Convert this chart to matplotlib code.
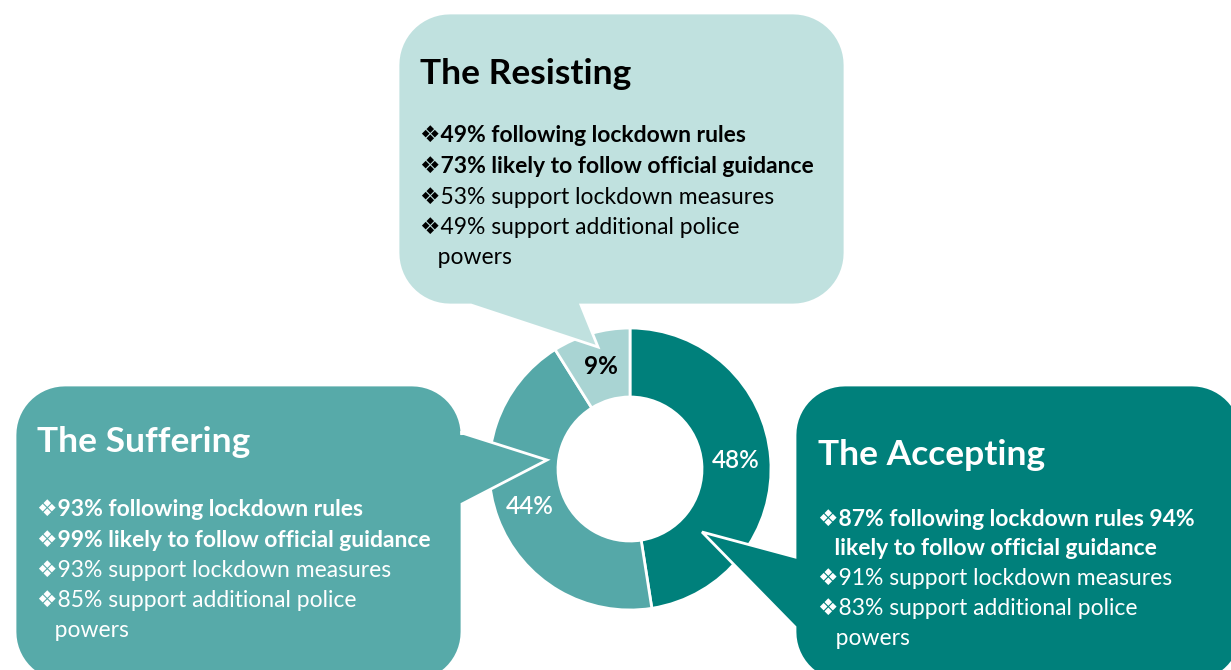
import matplotlib
matplotlib.use("Agg")
import matplotlib.pyplot as plt
import numpy as np
from matplotlib.patches import Polygon

W, H = 1231, 670

# ---- data ----
segments = ["The Accepting", "The Suffering", "The Resisting"]
shares = [48, 44, 9]
share_labels = ["48%", "44%", "9%"]
slice_colors = ["#00807B", "#55A8A8", "#A9D4D3"]
label_colors = ["white", "white", "black"]
label_weights = ["semibold", "semibold", "bold"]

resisting_lines = [("❖49% following lockdown rules", True),
                   ("❖73% likely to follow official guidance", True),
                   ("❖53% support lockdown measures", False),
                   ("❖49% support additional police", False),
                   ("   powers", False)]
suffering_lines = [("❖93% following lockdown rules", True),
                   ("❖99% likely to follow official guidance", True),
                   ("❖93% support lockdown measures", False),
                   ("❖85% support additional police", False),
                   ("   powers", False)]
accepting_lines = [("❖87% following lockdown rules 94%", True),
                   ("   likely to follow official guidance", True),
                   ("❖91% support lockdown measures", False),
                   ("❖83% support additional police", False),
                   ("   powers", False)]

FAM = ["Lato", "DejaVu Sans"]

fig = plt.figure(figsize=(W / 100, H / 100), dpi=100)
ax = fig.add_axes([0, 0, 1, 1])


def Y(y):
    return H - y


# ---- donut ----
cx, cy, R, RIN = 630, 469, 141, 72
wedges, texts = ax.pie(shares, labels=share_labels, colors=slice_colors,
                       startangle=90, counterclock=False,
                       center=(cx, Y(cy)), radius=R,
                       labeldistance=(R + RIN) / 2 / R,
                       wedgeprops=dict(width=R - RIN, edgecolor="white", linewidth=2),
                       textprops=dict(fontsize=17.5, family=FAM))
for t, c, w in zip(texts, label_colors, label_weights):
    t.set_color(c)
    t.set_fontweight(w)
    t.set_ha("center")
    t.set_va("center")


# ---- speech bubbles ----
def bubble(x0, y0, x1, y1, r, edge, p1, tip, p2, color):
    pts = []

    def arc(ccx, ccy, a0, a1):
        t = np.radians(np.linspace(a0, a1, 16))
        return [(ccx + r * np.cos(v), ccy + r * np.sin(v)) for v in t]

    pts += arc(x0 + r, y0 + r, 180, 270)
    pts += arc(x1 - r, y0 + r, 270, 360)
    if edge == "right":
        pts += [p1, tip, p2]
    pts += arc(x1 - r, y1 - r, 0, 90)
    if edge == "bottom":
        pts += [p1, tip, p2]
    pts += arc(x0 + r, y1 - r, 90, 180)
    if edge == "left":
        pts += [p1, tip, p2]
    pts = [(x, Y(y)) for x, y in pts]
    ax.add_patch(Polygon(pts, closed=True, facecolor=color, edgecolor="white",
                         linewidth=2, zorder=3))


bubble(398, 13, 845, 305, 52, "bottom", (581, 305), (598, 347), (471, 305), "#C0E1DF")
bubble(15, 385, 462, 682, 50, "right", (462, 433), (547, 460), (462, 504), "#57AAA9")
bubble(795, 385, 1242, 682, 50, "left", (795, 627), (702, 532), (795, 557), "#00807B")


def block(x, ty, title, lines, y0, dy, color):
    ax.text(x, Y(ty), title, fontsize=25.5, fontweight="bold", color=color,
            family=FAM, va="center", ha="left", zorder=4)
    for i, (s, b) in enumerate(lines):
        ax.text(x, Y(y0 + i * dy), s, fontsize=16.5, color=color, family=FAM,
                fontweight="bold" if b else "normal", va="center", ha="left", zorder=4)


block(420, 74, segments[2], resisting_lines, 136, 30.5, "black")
block(37, 442, segments[1], suffering_lines, 510, 30.2, "white")
block(818, 455, segments[0], accepting_lines, 519, 29.8, "white")

ax.set_xlim(0, W)
ax.set_ylim(0, H)
ax.set_aspect("auto")
ax.axis("off")
fig.savefig("out.png", dpi=100, facecolor="white")
